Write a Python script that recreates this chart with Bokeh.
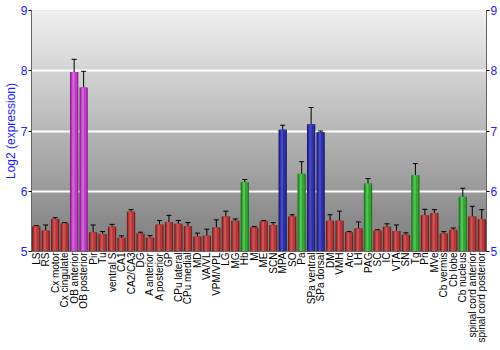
import math
from bokeh.plotting import figure
from bokeh.models import (ColumnDataSource, Whisker, TeeHead, LinearAxis, FactorRange,
                          Range1d, BoxAnnotation, FixedTicker)
from bokeh.transform import dodge
from bokeh.embed import file_html
from bokeh.resources import INLINE

regions = ["LS", "RS", "Cx motor", "Cx cingulate", "OB anterior", "OB posterior", "Pir", "Tu",
           "ventral S", "CA1", "CA2/CA3", "DG", "A anterior", "A posterior", "GP", "CPu lateral",
           "CPu medial", "MD", "VA/VL", "VPM/VPL", "LG", "MG", "Hb", "M", "ME", "SCN", "MPA", "SO",
           "Pa", "SPa ventral", "SPa dorsal", "DM", "VMH", "Arc", "LH", "PAG", "SC", "IC", "VTA",
           "SN", "Tg", "Pn", "MVe", "Cb vermis", "Cb lobe", "Cb nucleus", "spinal cord anterior",
           "spinal cord posterior"]

means = [5.42, 5.35, 5.54, 5.47, 7.98, 7.72, 5.32, 5.29,
         5.41, 5.23, 5.66, 5.30, 5.23, 5.45, 5.49, 5.46,
         5.42, 5.25, 5.26, 5.40, 5.58, 5.51, 6.15, 5.40, 5.50, 5.44, 7.02, 5.58,
         6.29, 7.11, 6.98, 5.51, 5.51, 5.32, 5.38, 6.13, 5.35, 5.41, 5.34,
         5.28, 6.27, 5.60, 5.64, 5.30, 5.36, 5.91, 5.58,
         5.54]

errors = [0.01, 0.09, 0.02, 0.01, 0.21, 0.27, 0.12, 0.04,
          0.04, 0.03, 0.035, 0.02, 0.035, 0.065, 0.11, 0.055,
          0.06, 0.055, 0.11, 0.125, 0.09, 0.03, 0.045, 0.015, 0.015, 0.04, 0.075, 0.03,
          0.2, 0.28, 0.02, 0.1, 0.16, 0.01, 0.11, 0.08, 0.01, 0.05, 0.1,
          0.03, 0.19, 0.1, 0.055, 0.03, 0.03, 0.14, 0.17,
          0.155]

groups = ["r", "r", "r", "r", "p", "p", "r", "r",
          "r", "r", "r", "r", "r", "r", "r", "r",
          "r", "r", "r", "r", "r", "r", "g", "r", "r", "r", "b", "r",
          "g", "b", "b", "r", "r", "r", "r", "g", "r", "r", "r",
          "r", "g", "r", "r", "r", "r", "g", "r",
          "r"]

y_ticks = [5, 6, 7, 8, 9]

# (edge/dark, body, highlight)
palette = {
    "r": ("#7a1f1f", "#b43838", "#c95555"),
    "p": ("#8a1f8e", "#bf3fc4", "#d366d6"),
    "g": ("#1f7a1f", "#36a336", "#55c255"),
    "b": ("#1c1c7a", "#2f2fa6", "#4a4ac0"),
}

src = ColumnDataSource(dict(
    x=regions,
    top=means,
    upper=[m + e for m, e in zip(means, errors)],
    lower=[m - e for m, e in zip(means, errors)],
    dark=[palette[g][0] for g in groups],
    body=[palette[g][1] for g in groups],
    hi=[palette[g][2] for g in groups],
))

p = figure(x_range=FactorRange(*regions), y_range=Range1d(5, 9),
           width=500, height=350, output_backend="svg", toolbar_location=None,
           min_border_left=27, min_border_right=14, min_border_top=10, min_border_bottom=99)

p.background_fill_color = "#7c7c7c"
p.border_fill_color = "white"
p.outline_line_color = "#666666"
p.outline_line_width = 1

# vertical gradient background (overlapping bands to avoid seams)
n = 60
c_top = (0xf0, 0xf0, 0xf0)
c_bot = (0x7c, 0x7c, 0x7c)
for i in range(n):
    t = (i + 0.5) / n
    col = tuple(int(round(c_bot[k] + (c_top[k] - c_bot[k]) * t)) for k in range(3))
    p.add_layout(BoxAnnotation(bottom=5 + 4 * i / n, top=9.0,
                               fill_color="#%02x%02x%02x" % col, fill_alpha=1.0,
                               line_alpha=0, level="image"))

p.xgrid.grid_line_color = None
p.ygrid.grid_line_color = "white"
p.ygrid.grid_line_width = 2
p.ygrid.ticker = FixedTicker(ticks=y_ticks)

# bars with simple cylinder shading
p.vbar(x="x", top="top", bottom=5, width=0.88, source=src, fill_color="dark", line_color=None)
p.vbar(x="x", top="top", bottom=5, width=0.62, source=src, fill_color="body", line_color=None)
p.vbar(x=dodge("x", -0.08, range=p.x_range), top="top", bottom=5, width=0.22, source=src,
       fill_color="hi", line_color=None)

p.add_layout(Whisker(source=src, base="x", upper="upper", lower="lower",
                     line_color="black", line_width=1,
                     upper_head=TeeHead(size=5, line_color="black", line_width=1),
                     lower_head=TeeHead(size=5, line_color="black", line_width=1)))

font = "Liberation Sans"

# left axis
yax = p.yaxis[0]
yax.ticker = FixedTicker(ticks=y_ticks)
yax.axis_label = "Log2 (expression)"
yax.axis_label_text_color = "#1a1aff"
yax.axis_label_text_font = font
yax.axis_label_text_font_size = "12px"
yax.axis_label_text_font_style = "normal"
yax.axis_label_standoff = 0
yax.major_label_text_color = "#1a1aff"
yax.major_label_text_font = font
yax.major_label_text_font_size = "12px"
yax.major_label_standoff = 1
yax.major_tick_out = 3
yax.major_tick_in = 0
yax.minor_tick_line_color = None
yax.axis_line_color = "#666666"
yax.major_tick_line_color = "black"

# right axis
rax = LinearAxis(ticker=FixedTicker(ticks=y_ticks))
rax.major_label_text_color = "#1a1aff"
rax.major_label_text_font = font
rax.major_label_text_font_size = "12px"
rax.major_label_standoff = 1
rax.major_tick_out = 3
rax.major_tick_in = 0
rax.minor_tick_line_color = None
rax.axis_line_color = "#666666"
rax.major_tick_line_color = "black"
p.add_layout(rax, "right")

# x axis
xax = p.xaxis[0]
xax.major_label_orientation = math.pi / 2
xax.major_label_text_font = font
xax.major_label_text_font_size = "10px"
xax.major_label_text_color = "black"
xax.major_label_standoff = 1
xax.major_tick_out = 0
xax.major_tick_in = 0
xax.major_tick_line_color = None
xax.axis_line_color = "#666666"

open("out.html", "w").write(file_html(p, INLINE))
